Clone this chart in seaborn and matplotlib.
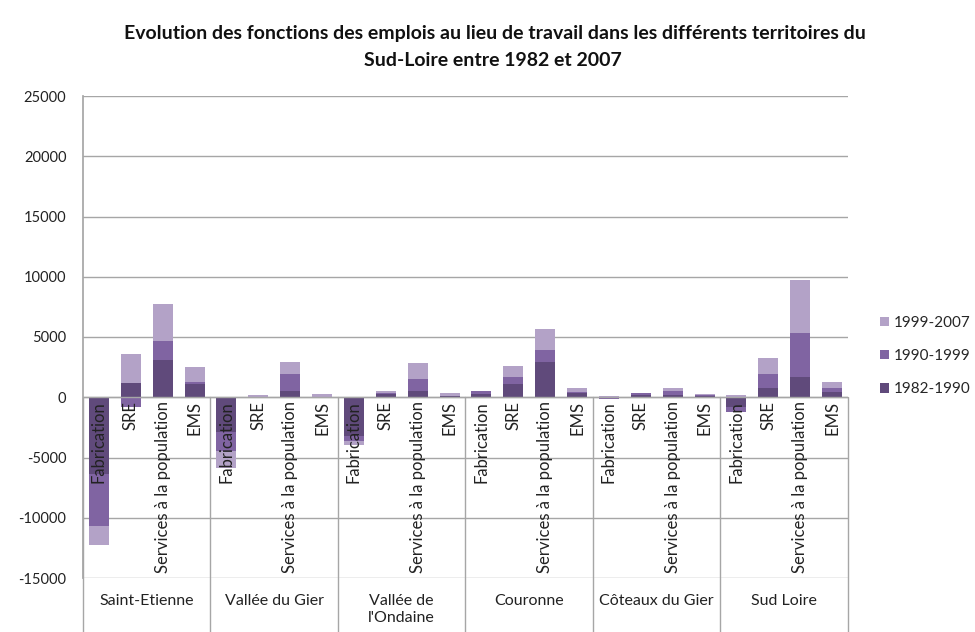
import matplotlib
matplotlib.use("Agg")
import matplotlib.pyplot as plt
import matplotlib.transforms as mtransforms
from matplotlib.patches import Patch
import seaborn as sns
import pandas as pd
import numpy as np

# ---- data ----
territories = ["Saint-Etienne", "Vallée du Gier", "Vallée de\nl'Ondaine",
               "Couronne", "Côteaux du Gier", "Sud Loire"]
functions = ["Fabrication", "SRE", "Services à la population", "EMS"]
series_names = ["1982-1990", "1990-1999", "1999-2007"]

# order: per territory -> Fabrication, SRE, Services, EMS
v_1982_1990 = [-6400, 1200, 3050, 1100,
               -2900, 0, 550, 0,
               -3200, 250, 550, 140,
               300, 1100, 2900, 350,
               0, 200, 150, 100,
               -800, 750, 1720, 415]
v_1990_1999 = [-4300, -800, 1600, 200,
               -1600, 0, 1400, 0,
               -400, 100, 970, 0,
               250, 600, 1050, 50,
               -150, 180, 380, 100,
               -400, 1190, 3600, 330]
v_1999_2007 = [-1600, 2350, 3050, 1250,
               -1380, 150, 970, 300,
               -400, 200, 1300, 190,
               0, 900, 1700, 400,
               130, 0, 270, 50,
               150, 1300, 4430, 500]

colors = {"1982-1990": "#604A7B", "1990-1999": "#8064A2", "1999-2007": "#B3A2C7"}

sns.set_theme(style="white")
plt.rcParams["font.family"] = ["Lato", "DejaVu Sans"]

slots = [f"{t}|{f}" for t in territories for f in functions]
vals = np.array([v_1982_1990, v_1990_1999, v_1999_2007], dtype=float)
pos = np.clip(vals, 0, None).cumsum(axis=0)
neg = np.clip(vals, None, 0).cumsum(axis=0)

fig = plt.figure(figsize=(9.75, 6.32), dpi=100)
ax = fig.add_axes([83/975, 1-578/632, (848-83)/975, (578-96)/632])

# draw outermost cumulative first, inner on top
for k in [2, 1, 0]:
    name = series_names[k]
    for cum in (pos[k], neg[k]):
        df = pd.DataFrame({"slot": slots, "value": cum})
        sns.barplot(data=df, x="slot", y="value", order=slots, color=colors[name],
                    saturation=1, width=0.63, errorbar=None, ax=ax, linewidth=0)

ax.set_xlim(-0.5, len(slots) - 0.5)
ax.set_ylim(-15000, 25000)
ax.set_yticks(np.arange(-15000, 25001, 5000))
ax.set_yticklabels([str(v) for v in range(-15000, 25001, 5000)], fontsize=10.5, color="#222222")
ax.yaxis.grid(True, color="#A6A6A6", linewidth=1)
ax.set_axisbelow(True)
ax.set_xticks([])
ax.set_xlabel("")
ax.set_ylabel("")
for s in ["top", "right", "bottom"]:
    ax.spines[s].set_visible(False)
ax.spines["left"].set_color("#A6A6A6")
ax.tick_params(axis="y", length=4, color="#A6A6A6", pad=8)

ax.axhline(0, color="#A6A6A6", linewidth=1, zorder=3)

# category labels (rotated)
for i, s in enumerate(slots):
    f = s.split("|")[1]
    ax.annotate(f, xy=(i, 0), xytext=(0, -3), textcoords="offset points",
                rotation=90, ha="center", va="top", fontsize=12, color="#222222",
                annotation_clip=False, zorder=5)

trans = mtransforms.blended_transform_factory(ax.transData, ax.transAxes)
y0 = 15000 / 40000
for g in range(len(territories) + 1):
    x = g * 4 - 0.5
    ax.plot([x, x], [y0, -0.12], transform=trans, color="#A6A6A6",
            linewidth=1, clip_on=False, zorder=4)
for g, t in enumerate(territories):
    ax.text(g * 4 + 1.5, -0.033, t, transform=trans, ha="center", va="top",
            fontsize=11.5, color="#222222", linespacing=1.3)

# legend
handles = [Patch(facecolor=colors[n], edgecolor="none") for n in ["1999-2007", "1990-1999", "1982-1990"]]
fig.legend(handles, ["1999-2007", "1990-1999", "1982-1990"], loc="center left",
           bbox_to_anchor=(866/975, 1 - 356/632), frameon=False, fontsize=11,
           handlelength=0.6, handleheight=0.6, handletextpad=0.3, labelspacing=1.25)

fig.text(495/975, 1 - 34/632,
         "Evolution des fonctions des emplois au lieu de travail dans les différents territoires du",
         ha="center", va="center", fontsize=14, fontweight="bold", color="#111111")
fig.text(493/975, 1 - 61/632, "Sud-Loire entre 1982 et 2007",
         ha="center", va="center", fontsize=14, fontweight="bold", color="#111111")

fig.savefig("out.png", dpi=100)
